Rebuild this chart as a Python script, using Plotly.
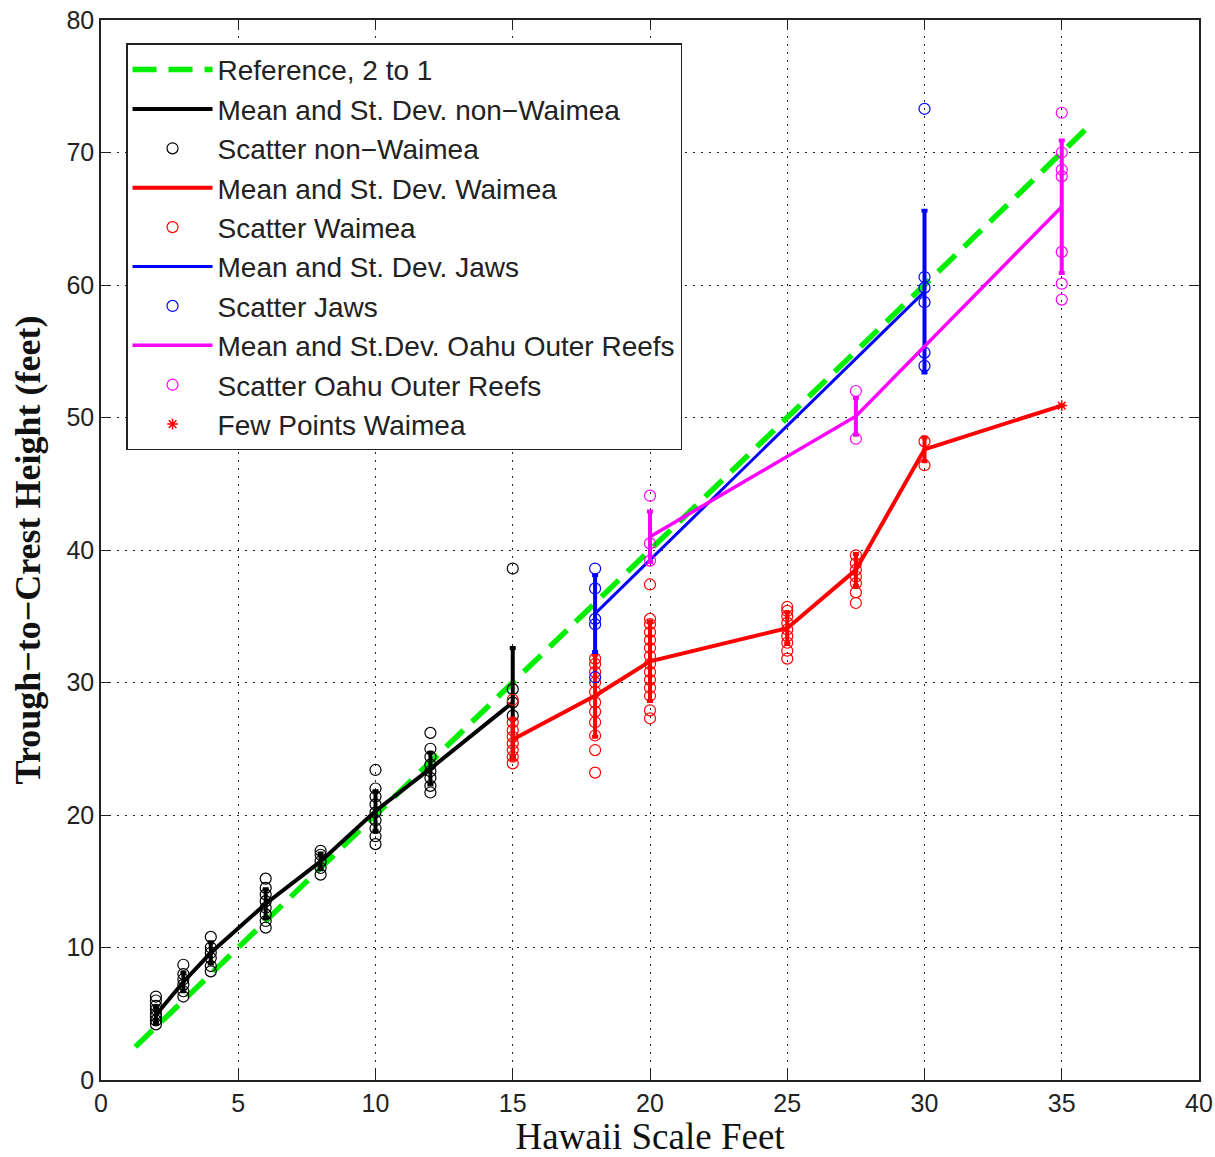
import plotly.graph_objects as go

# ---------------- data ----------------
ref_x = [1.25, 36.0]
ref_y = [2.5, 72.0]

nw_x = [2, 3, 4, 6, 8, 10, 12, 15]
nw_mean = [4.9, 7.4, 9.6, 13.3, 16.5, 20.3, 23.5, 28.5]
nw_std = [0.6, 0.7, 0.8, 1.1, 0.6, 1.5, 1.2, 4.1]
nw_sc_x = [2]*8 + [3]*6 + [4]*6 + [6]*8 + [8]*5 + [10]*9 + [12]*8 + [15]*4
nw_sc_y = [4.2, 4.5, 4.8, 5.0, 5.3, 5.6, 6.0, 6.3,
           6.3, 6.7, 7.2, 7.6, 8.0, 8.7,
           8.2, 8.6, 9.2, 9.6, 10.0, 10.8,
           11.5, 12.0, 12.5, 13.0, 13.5, 14.0, 14.5, 15.2,
           15.5, 16.0, 16.5, 17.0, 17.3,
           17.8, 18.4, 19.0, 19.6, 20.2, 20.8, 21.4, 22.0, 23.4,
           21.7, 22.2, 22.8, 23.3, 23.8, 24.4, 25.0, 26.2,
           27.5, 28.5, 29.5, 38.6]

wa_x = [15, 18, 20, 25, 27.5, 30, 35]
wa_mean = [25.7, 29.0, 31.6, 34.1, 38.5, 47.6, 50.9]
wa_std = [1.5, 3.1, 3.0, 1.2, 1.2, 0.9, 0.0]
wa_sc_x = [15]*8 + [18]*11 + [20]*14 + [25]*9 + [27.5]*7 + [30]*2
wa_sc_y = [23.9, 24.4, 24.9, 25.4, 25.9, 26.4, 27.0, 28.7,
           23.2, 24.9, 26.0, 27.0, 27.8, 28.5, 29.3, 30.0, 30.8, 31.4, 31.8,
           27.3, 27.9, 29.0, 29.6, 30.2, 30.8, 31.4, 32.0, 32.6, 33.2, 33.8, 34.4, 34.8, 37.4,
           31.8, 32.4, 33.0, 33.5, 34.0, 34.5, 35.0, 35.4, 35.7,
           36.0, 36.8, 37.5, 38.0, 38.5, 39.0, 39.6,
           46.4, 48.2]

jw_x = [18, 30]
jw_mean = [35.2, 59.5]
jw_std = [2.9, 6.1]
jw_sc_x = [18]*5 + [30]*6
jw_sc_y = [30.4, 34.4, 34.8, 37.1, 38.6,
           53.9, 54.9, 58.7, 59.8, 60.6, 73.3]

oa_x = [20, 27.5, 35]
oa_mean = [41.0, 50.1, 65.9]
oa_std = [1.9, 1.4, 5.0]
oa_sc_x = [20]*3 + [27.5]*2 + [35]*7
oa_sc_y = [39.2, 40.5, 44.1,
           48.4, 52.0,
           58.9, 60.1, 62.5, 68.2, 68.7, 70.0, 73.0]

few_x = [35]
few_y = [50.9]

x_ticks = [0, 5, 10, 15, 20, 25, 30, 35, 40]
y_ticks = [0, 10, 20, 30, 40, 50, 60, 70, 80]

# ---------------- figure ----------------
fig = go.Figure()

fig.add_trace(go.Scatter(x=ref_x, y=ref_y, mode="lines", name="Reference, 2 to 1",
                         line=dict(color="#00ee00", width=5.5, dash="24px,12px")))


def mean_trace(x, y, s, color, name, width):
    return go.Scatter(x=x, y=y, mode="lines", name=name,
                      line=dict(color=color, width=width),
                      error_y=dict(type="data", array=s, visible=True,
                                   color=color, thickness=4, width=3))


def scat_trace(x, y, color, name):
    return go.Scatter(x=x, y=y, mode="markers", name=name,
                      marker=dict(symbol="circle-open", size=11, color=color,
                                  line=dict(width=1.2, color=color)))


fig.add_trace(mean_trace(nw_x, nw_mean, nw_std, "black", "Mean and St. Dev. non\u2212Waimea", 4))
fig.add_trace(scat_trace(nw_sc_x, nw_sc_y, "black", "Scatter non\u2212Waimea"))
fig.add_trace(mean_trace(wa_x, wa_mean, wa_std, "#ff0000", "Mean and St. Dev. Waimea", 4))
fig.add_trace(scat_trace(wa_sc_x, wa_sc_y, "#ff0000", "Scatter Waimea"))
fig.add_trace(mean_trace(jw_x, jw_mean, jw_std, "#0000ff", "Mean and St. Dev. Jaws", 3))
fig.add_trace(scat_trace(jw_sc_x, jw_sc_y, "#0000ff", "Scatter Jaws"))
fig.add_trace(mean_trace(oa_x, oa_mean, oa_std, "#ff00ff", "Mean and St.Dev. Oahu Outer Reefs", 3.5))
fig.add_trace(scat_trace(oa_sc_x, oa_sc_y, "#ff00ff", "Scatter Oahu Outer Reefs"))
fig.add_trace(go.Scatter(x=few_x, y=few_y, mode="markers", name="Few Points Waimea",
                         marker=dict(symbol="asterisk-open", size=9, color="#ff0000",
                                     line=dict(width=1.5, color="#ff0000"))))

axis_common = dict(
    showgrid=True, gridcolor="#222222", gridwidth=1, griddash="2px,6px",
    zeroline=False, showline=True, linecolor="#222222", linewidth=1.5,
    mirror="allticks", ticks="inside", ticklen=10, tickcolor="#222222",
    automargin=False,
    tickfont=dict(family="Liberation Sans, Arial, sans-serif", size=25, color="#222222"),
)

fig.update_xaxes(range=[0, 40], tickvals=x_ticks, ticktext=[str(v) for v in x_ticks],
                 title=dict(text="Hawaii Scale Feet",
                            font=dict(family="Liberation Serif, Times New Roman, serif",
                                      size=37, color="#111111")),
                 **axis_common)
fig.update_yaxes(range=[0, 80], tickvals=y_ticks, ticktext=[str(v) for v in y_ticks],
                 title=dict(text="<b>Trough\u2212to\u2212Crest Height (feet)</b>",
                            font=dict(family="Liberation Serif, Times New Roman, serif",
                                      size=36, color="#111111")),
                 **axis_common)

fig.update_layout(
    width=1215, height=1157,
    margin=dict(l=101, r=16, t=20, b=77),
    plot_bgcolor="white", paper_bgcolor="white",
    legend=dict(x=0.0228, y=0.978, xanchor="left", yanchor="top",
                bgcolor="white", bordercolor="#222222", borderwidth=1.5,
                font=dict(family="Liberation Sans, Arial, sans-serif", size=28, color="#222222"),
                itemwidth=80, tracegroupgap=0),
    showlegend=True,
)

fig.write_html("out.html")
